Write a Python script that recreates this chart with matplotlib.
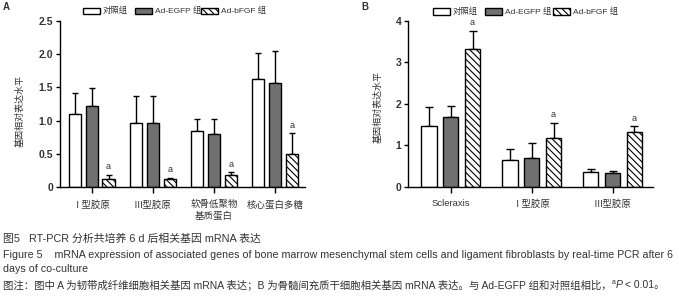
import matplotlib
matplotlib.use("Agg")
import matplotlib.pyplot as plt
import numpy as np
from matplotlib.patches import Rectangle

plt.rcParams['font.family'] = ['Liberation Sans', 'Noto Sans CJK SC', 'DejaVu Sans']
plt.rcParams['hatch.linewidth'] = 0.8

# ---------------- data ----------------
groups = ['对照组', 'Ad-EGFP 组', 'Ad-bFGF 组']

catsA = ['Ⅰ型胶原', 'Ⅲ型胶原', '软骨低聚物\n基质蛋白', '核心蛋白多糖']
A_ctrl = [1.10, 0.97, 0.84, 1.62]
A_ctrl_err = [0.32, 0.40, 0.19, 0.39]
A_egfp = [1.22, 0.97, 0.80, 1.56]
A_egfp_err = [0.27, 0.40, 0.23, 0.49]
A_bfgf = [0.13, 0.13, 0.18, 0.50]
A_bfgf_err = [0.06, 0.01, 0.05, 0.31]
A_yticks = [0, 0.5, 1.0, 1.5, 2.0, 2.5]
A_yticklabels = ['0', '0.5', '1.0', '1.5', '2.0', '2.5']

catsB = ['Scleraxis', 'Ⅰ型胶原', 'Ⅲ型胶原']
B_ctrl = [1.46, 0.64, 0.35]
B_ctrl_err = [0.45, 0.28, 0.08]
B_egfp = [1.67, 0.70, 0.32]
B_egfp_err = [0.27, 0.35, 0.06]
B_bfgf = [3.31, 1.17, 1.33]
B_bfgf_err = [0.45, 0.37, 0.13]
B_yticks = [0, 1, 2, 3, 4]

ylabel = '基因相对表达水平'
sig = 'a'

W, H = 679, 300
fig = plt.figure(figsize=(W / 100, H / 100), dpi=100)
TXT = '#333333'
GRAY = '#707070'


def fx(px):
    return px / W


def fy(py):
    return 1 - py / H


def panel(rect, cats, series, errs, yticks, yticklabels, ylim, xlim, width, offset, capsize, lab_fs):
    ax = fig.add_axes(rect)
    x = np.arange(len(cats))
    styles = [dict(facecolor='white'), dict(facecolor=GRAY), dict(facecolor='white', hatch='\\\\\\\\\\')]
    for i, (vals, er, st) in enumerate(zip(series, errs, styles)):
        pos = x + (i - 1) * offset
        ax.bar(pos, vals, width=width, edgecolor='black', linewidth=1.0, zorder=2, **st)
        ax.errorbar(pos, vals, yerr=[np.zeros(len(vals)), er], fmt='none', ecolor='black',
                    elinewidth=1.0, capsize=capsize, capthick=1.0, zorder=1)
        if i == 2:
            for p, v, e in zip(pos, vals, er):
                ax.annotate(sig, (p, v + e), xytext=(0, 2.5), textcoords='offset points',
                            ha='center', va='bottom', fontsize=6.5, color=TXT)
    ax.set_xlim(*xlim)
    ax.set_ylim(*ylim)
    ax.spines['top'].set_visible(False)
    ax.spines['right'].set_visible(False)
    for s in ['left', 'bottom']:
        ax.spines[s].set_linewidth(1.0)
    ax.set_yticks(yticks)
    ax.set_yticklabels(yticklabels, fontsize=7.5, color=TXT, fontweight='bold')
    ax.set_xticks(x)
    ax.set_xticklabels(cats, fontsize=lab_fs, color=TXT, linespacing=1.3)
    ax.tick_params(axis='both', direction='out', length=3, width=1.0, pad=2)
    ax.tick_params(axis='x', length=4, pad=5)
    ax.patch.set_visible(False)
    return ax


axA = panel([fx(60), fy(187.3), fx(305) - fx(60), (187.3 - 20.7) / H], catsA,
            [A_ctrl, A_egfp, A_bfgf], [A_ctrl_err, A_egfp_err, A_bfgf_err],
            A_yticks, A_yticklabels, (0, 2.5), (-0.52, 3.49), 0.2, 0.275, 2.2, 6.8)
axB = panel([fx(408.3), fy(186.7), fx(653) - fx(408.3), (186.7 - 20.7) / H], catsB,
            [B_ctrl, B_egfp, B_bfgf], [B_ctrl_err, B_egfp_err, B_bfgf_err],
            B_yticks, [str(v) for v in B_yticks], (0, 4), (-0.525, 2.5), 0.19, 0.27, 3.2, 6.8)

# y labels
fig.text(fx(20), fy(111), ylabel, rotation=90, ha='center', va='center', fontsize=6.5, color=TXT)
fig.text(fx(378), fy(107), ylabel, rotation=90, ha='center', va='center', fontsize=6.5, color=TXT)

# panel letters
fig.text(fx(3), fy(7), 'A', fontsize=7, fontweight='bold', color=TXT, ha='left', va='center')
fig.text(fx(361), fy(7), 'B', fontsize=7, fontweight='bold', color=TXT, ha='left', va='center')


def legend(x0s, yc):
    styles = [dict(facecolor='white'), dict(facecolor=GRAY), dict(facecolor='white', hatch='\\\\\\\\\\')]
    for x0, g, st in zip(x0s, groups, styles):
        r = Rectangle((fx(x0), fy(yc + 3)), fx(17), 6 / H, transform=fig.transFigure,
                      edgecolor='black', linewidth=1.0, **st)
        fig.patches.append(r)
        fig.text(fx(x0 + 20), fy(yc), g, fontsize=6.0, color=TXT, ha='left', va='center')


legend([83, 135, 201], 11.2)
legend([433, 485, 553], 11.5)

# caption
fig.text(fx(3), fy(238.5), '图5   RT-PCR 分析共培养 6 d 后相关基因 mRNA 表达', fontsize=7.8,
         color=TXT, ha='left', va='center')
fig.text(fx(3), fy(254.5),
         'Figure 5    mRNA expression of associated genes of bone marrow mesenchymal stem cells and ligament fibroblasts by real-time PCR after 6',
         fontsize=7.7, color=TXT, ha='left', va='center')
fig.text(fx(3), fy(268.5), 'days of co-culture', fontsize=7.7, color=TXT, ha='left', va='center')

# last caption line built from pieces (superscript a, italic P)
renderer = fig.canvas.get_renderer()
pieces = [
    ('图注：图中 A 为韧带成纤维细胞相关基因 mRNA 表达；B 为骨髓间充质干细胞相关基因 mRNA 表达。与 Ad-EGFP 组和对照组相比，',
     dict(fontsize=7.5), 0),
    ('a', dict(fontsize=5), 3),
    ('P', dict(fontsize=7.5, style='italic'), 0),
    (' < 0.01。', dict(fontsize=7.5), 0),
]
xcur = fx(3)
for s, kw, dy in pieces:
    t = fig.text(xcur, fy(285 + 0) + dy / H, s, color=TXT, ha='left', va='center', **kw)
    bb = t.get_window_extent(renderer=renderer)
    xcur += bb.width / W

fig.savefig('out.png', dpi=100)
